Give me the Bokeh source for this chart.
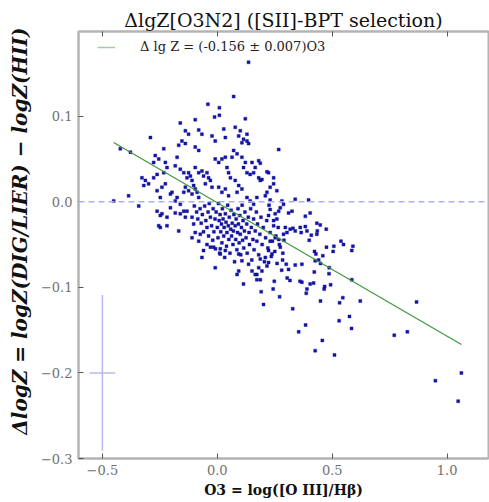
from bokeh.plotting import figure
from bokeh.models import Range1d, FixedTicker, Span, Legend, LegendItem, LinearAxis, ColumnDataSource
from bokeh.embed import file_html
from bokeh.resources import INLINE

# ---- data (O3 vs Delta lgZ) ----
o3 = [
    0.267, 0.867, 0.827, 0.770, 0.949, 1.062, 1.048, 0.622, 0.584, 0.575, 0.530, 0.510, 0.457, 0.426, 0.384, 0.354,
    0.328, 0.449, 0.546, 0.532, 0.271, 0.201, 0.191, 0.243, 0.585, 0.590, 0.585, 0.538, 0.549, 0.507, 0.504, 0.475,
    0.474, 0.397, 0.339, 0.459, 0.441, 0.426, 0.493, 0.467, 0.465, 0.486, 0.487, 0.449, 0.422, 0.390, 0.387, 0.419,
    0.404, 0.368, 0.360, 0.304, 0.316, 0.339, 0.368, 0.300, 0.310, 0.248, 0.284, 0.423, 0.429, 0.433, 0.435, 0.400,
    0.409, 0.433, 0.448, 0.383, 0.404, 0.383, 0.390, 0.361, 0.365, 0.329, 0.339, 0.317, 0.296, 0.303, 0.288, 0.325,
    0.310, 0.281, 0.288, 0.230, 0.245, 0.216, 0.223, 0.187, 0.180, 0.194, 0.216, 0.209, 0.252, 0.259, 0.245, 0.274,
    0.267, 0.230, 0.223, 0.252, 0.267, 0.274, 0.230, 0.223, 0.238, 0.209, 0.223, 0.216, 0.187, 0.180, 0.194, 0.172,
    0.187,
    0.136, 0.071, -0.041, 0.009, 0.009, -0.012, -0.096, -0.161, 0.122, -0.291, -0.422, -0.378, -0.233, -0.081, -0.067,
    -0.139, -0.125, -0.023, -0.009, 0.028, 0.035, 0.078, 0.100, 0.093, 0.114, 0.129, 0.136, -0.154, -0.139, -0.168,
    -0.096, -0.081, -0.270, -0.255, -0.277, -0.226, -0.219, -0.233, -0.175, -0.183, -0.328, -0.313, -0.299, -0.320,
    -0.277, -0.262, -0.241, -0.226, -0.204, -0.197, -0.386, -0.342, -0.451, -0.262, -0.248, -0.241, -0.255, -0.219,
    -0.168, -0.161, -0.146, -0.139, -0.183, -0.175, -0.161, -0.146, -0.139, -0.125, -0.161, -0.146, -0.125, -0.132,
    -0.117, -0.110, -0.103, -0.096, -0.110, -0.088, -0.081, -0.096, -0.081, -0.067, -0.060, -0.045, -0.038, -0.030,
    -0.052, -0.023, -0.009, 0.006, 0.020, 0.035, 0.042, 0.049, 0.057, 0.071, 0.086, 0.064, 0.107, 0.122, 0.114, 0.129,
    0.143, 0.151, 0.165, 0.180, 0.078, 0.093, 0.107, 0.086, 0.006, 0.020, 0.035, 0.049, 0.129, 0.143, 0.158, 0.172,
    -0.067, -0.009, 0.013, 0.035, 0.093, 0.107, 0.136, 0.151, 0.114, 0.093, 0.086, 0.165, 0.172, -0.045, -0.030,
    -0.096, -0.110, -0.081,
    -0.262, -0.248, -0.219, -0.248, -0.204, -0.183, -0.132, -0.110, -0.103, -0.074, -0.016, -0.060, 0.013,
    0.158, 0.245, 0.187, 0.230, 0.259, 0.107, 0.129,
    -0.100, -0.090, -0.085, -0.075, -0.070, -0.065, -0.060, -0.055, -0.050, -0.045, -0.040, -0.038, -0.035, -0.030,
    -0.025, -0.020, -0.018, -0.015, -0.010, -0.008, -0.005, 0.000, 0.003, 0.005, 0.008, 0.010, 0.012, 0.015, 0.018,
    0.020, 0.022, 0.025, 0.028, 0.030, 0.032, 0.035, 0.038, 0.040, 0.042, 0.045, 0.048, 0.050, 0.052, 0.055, 0.058,
    0.060, 0.062, 0.065, 0.068, 0.070, 0.072, 0.075, 0.078, 0.080, 0.082, 0.085, 0.088, 0.090, 0.092, 0.095, 0.098,
    0.100, 0.102, 0.105, 0.108, 0.110, 0.112, 0.115, 0.118, 0.120, 0.125, 0.128, 0.130, 0.135, 0.138, 0.140, 0.145,
    0.148, 0.150, 0.155, 0.158, 0.160, 0.165, 0.170, 0.172, 0.175, 0.180, 0.185, 0.190, 0.195, 0.200, 0.205, 0.210,
    0.215, 0.220, 0.225, 0.230, 0.235, 0.240, 0.245, 0.250, 0.255, 0.260, 0.265, 0.270, 0.280, 0.285, 0.290,
]
dlgz = [
    0.061, -0.117, -0.152, -0.156, -0.209, -0.200, -0.233, -0.116, -0.148, -0.134, -0.139, -0.179, -0.162, -0.174,
    -0.144, -0.152, -0.125, -0.116, -0.112, -0.118, -0.111, -0.120, -0.105, -0.102, -0.091, -0.052, -0.057, -0.046,
    -0.050, -0.052, -0.058, -0.053, -0.032, 0.002, 0.003, -0.063, -0.068, -0.069, -0.097, -0.099, -0.102, -0.084,
    -0.077, -0.072, -0.082, -0.102, -0.107, -0.095, -0.096, -0.094, -0.093, -0.089, -0.092, -0.074, -0.073, -0.073,
    -0.079, -0.093, -0.068, -0.058, -0.061, -0.038, -0.034, -0.045, -0.039, -0.025, -0.027, -0.017, -0.013, -0.029,
    -0.034, -0.030, -0.036, -0.031, -0.034, -0.032, -0.030, -0.036, -0.038, -0.011, -0.013, 0.001, -0.003, 0.002,
    0.021, 0.035, 0.034, 0.045, 0.028, 0.026, 0.011, 0.007, -0.014, -0.020, -0.022, -0.007, -0.011, -0.009, -0.016,
    -0.042, -0.044, -0.053, -0.046, -0.057, -0.061, -0.065, -0.071, -0.075, -0.067, -0.077, -0.081, -0.085, -0.091,
    0.163, 0.123, 0.114, 0.110, 0.101, 0.099, 0.096, 0.092, 0.097, 0.075, 0.062, 0.058, 0.062, 0.084, 0.079, 0.083,
    0.079, 0.077, 0.071, 0.085, 0.075, 0.087, 0.083, 0.077, 0.073, 0.071, 0.068, 0.071, 0.068, 0.066, 0.064, 0.060,
    0.054, 0.050, 0.046, 0.046, 0.040, 0.034, 0.052, 0.042, 0.028, 0.025, 0.021, 0.019, 0.028, 0.032, 0.017, 0.021,
    0.009, 0.011, 0.007, -0.005, 0.001, -0.011, -0.016, -0.014, -0.028, -0.028, -0.034, -0.014, -0.011, -0.018, 0.001,
    0.005, -0.003, 0.011, 0.017, 0.013, 0.038, 0.034, 0.034, 0.028, 0.030, 0.025, 0.019, 0.015, 0.009, 0.011, 0.005,
    0.040, 0.034, 0.036, 0.030, 0.034, 0.028, 0.025, 0.021, 0.017, 0.050, 0.046, 0.050, 0.052, 0.040, 0.034, 0.028,
    0.060, 0.056, 0.052, 0.052, 0.046, 0.040, 0.034, 0.032, 0.046, 0.040, 0.048, 0.025, 0.019, 0.015, 0.011, 0.017,
    0.011, 0.015, 0.007, 0.005, 0.001, -0.003, 0.005,
    -0.065, -0.077, -0.055, -0.057, -0.061, -0.069, -0.073, -0.081, -0.096, -0.081, -0.085, -0.085, -0.091, -0.050,
    -0.053, -0.036, -0.042, -0.046,
    0.013, 0.005, -0.018, -0.030, -0.007, -0.013, -0.011, -0.018, -0.026, -0.038, -0.053, -0.057, -0.061,
    0.034, 0.028, 0.025, 0.017, 0.013, 0.069, 0.079,
    -0.005, -0.012, -0.020, -0.008, -0.025, -0.015, -0.035, -0.005, -0.022, -0.030, -0.012, -0.040, -0.002, -0.018,
    -0.028, -0.045, -0.008, -0.035, -0.020, -0.055, -0.012, -0.030, -0.042, -0.002, -0.022, -0.060, -0.015, -0.035,
    -0.026, -0.048, -0.008, -0.020, -0.040, -0.030, -0.065, -0.014, -0.024, -0.052, -0.036, -0.004, -0.028, -0.044,
    -0.018, -0.060, -0.032, -0.010, -0.040, -0.025, -0.050, -0.034, -0.015, -0.070, -0.028, -0.044, -0.020, -0.056,
    -0.036, -0.008, -0.026, -0.048, -0.016, -0.038, -0.062, -0.030, -0.004, -0.045, -0.022, -0.054, -0.034, -0.012,
    -0.042, -0.026, -0.060, -0.018, -0.036, -0.050, -0.008, -0.030, -0.068, -0.044, -0.020, -0.056, -0.034, -0.012,
    -0.046, -0.026, -0.062, -0.038, -0.018, -0.050, -0.030, -0.070, -0.042, -0.022, -0.054, -0.004, -0.036, -0.064,
    -0.046, -0.028, -0.058, -0.040, -0.072, -0.030, -0.050, -0.080, -0.060, -0.045,
]

# fit: Delta lgZ = slope * O3 + intercept over the O3 span of the sample
fit_slope = -0.156
fit_intercept = -0.001
fit_label = "\u0394 lg Z = (-0.156 \u00b1 0.007)O3"

# typical error bar shown at lower left
err_x = [-0.5]
err_y = [-0.2]
err_dx = 0.056
err_dy = 0.091

x_ticks = [-0.5, 0.0, 0.5, 1.0]
x_tick_labels = ["\u22120.5", "0.0", "0.5", "1.0"]
y_ticks = [-0.3, -0.2, -0.1, 0.0, 0.1]
y_tick_labels = ["\u22120.3", "\u22120.2", "\u22120.1", "0.0", "0.1"]

SERIF = "DejaVu Serif"
SPINE = "#b4b4b4"

p = figure(width=489, height=502, output_backend="svg", toolbar_location=None,
           x_range=Range1d(-0.604, 1.18), y_range=Range1d(-0.3, 0.199),
           min_border_left=78, min_border_right=1, min_border_top=31, min_border_bottom=44)
p.grid.visible = False
p.background_fill_color = "white"
p.outline_line_color = SPINE
p.outline_line_width = 2

bottom_axis = p.below[0]
left_axis = p.left[0]

p.title.text = "\u0394lgZ[O3N2] ([SII]-BPT selection)"
p.title.align = "center"
p.title.text_font = SERIF
p.title.text_font_size = "19px"
p.title.text_font_style = "normal"
p.title.text_color = "#111111"
p.title.standoff = 2

for ax, ticks, labels in ((bottom_axis, x_ticks, x_tick_labels), (left_axis, y_ticks, y_tick_labels)):
    ax.ticker = FixedTicker(ticks=ticks)
    ax.major_label_overrides = {t: l for t, l in zip(ticks, labels)}
    ax.major_tick_in = 5
    ax.major_tick_out = 0
    ax.minor_tick_line_color = None
    ax.major_tick_line_color = "#555555"
    ax.axis_line_color = SPINE
    ax.axis_line_width = 2
    ax.major_label_text_font = SERIF
    ax.major_label_text_font_size = "13px"
    ax.major_label_text_color = "#707070"
    ax.major_label_standoff = 6
    ax.axis_label_text_font = SERIF
    ax.axis_label_text_color = "#111111"

bottom_axis.axis_label = "O3 = log([O III]/H\u03b2)"
bottom_axis.axis_label_text_font_size = "14px"
bottom_axis.axis_label_text_font_style = "bold"
bottom_axis.axis_label_standoff = 4
left_axis.axis_label = "\u00a0\u00a0\u00a0\u00a0\u0394logZ = logZ(DIG/LIER) \u2212 logZ(HII)"
left_axis.axis_label_text_font_size = "20px"
left_axis.axis_label_text_font_style = "bold italic"
left_axis.axis_label_standoff = 6

# top axis: inward ticks only, like the reference's upper spine
top_axis = LinearAxis(ticker=FixedTicker(ticks=x_ticks), major_label_text_font_size="0px",
                      major_label_text_alpha=0, major_label_standoff=0, major_tick_in=5, major_tick_out=0,
                      minor_tick_line_color=None, major_tick_line_color="#555555",
                      axis_line_color=SPINE, axis_line_width=2)
p.add_layout(top_axis, "above")

# zero reference
p.add_layout(Span(location=0, dimension="width", line_color="#aab0ee", line_dash="6 4", line_width=1.5))

# error cross
p.segment(x0=[err_x[0] - err_dx], y0=err_y, x1=[err_x[0] + err_dx], y1=err_y, line_color="#b8b8f0", line_width=1.5)
p.segment(x0=err_x, y0=[err_y[0] - err_dy], x1=err_x, y1=[err_y[0] + err_dy], line_color="#b8b8f0", line_width=1.5)

# data
src = ColumnDataSource(dict(x=o3, y=dlgz))
p.scatter("x", "y", source=src, marker="square", size=3, fill_color="#1414b4", line_color="#0a0a80", line_width=0.4)

# fit line
fx = [min(o3), max(o3)]
fy = [fit_slope * v + fit_intercept for v in fx]
p.line(fx, fy, line_color="#3c963c", line_width=1.1)
leg_line = p.line([fx[0]], [fy[0]], line_color="#9fcf9f", line_width=1.5)

legend = Legend(items=[LegendItem(label=fit_label, renderers=[leg_line])],
                location=(19, 404), border_line_color=None, background_fill_alpha=0,
                margin=0, padding=0, glyph_width=18, glyph_height=14, label_height=14,
                label_standoff=25, label_text_font=SERIF, label_text_font_size="13px",
                label_text_color="#222222")
p.add_layout(legend)

open("out.html", "w").write(file_html(p, INLINE))
